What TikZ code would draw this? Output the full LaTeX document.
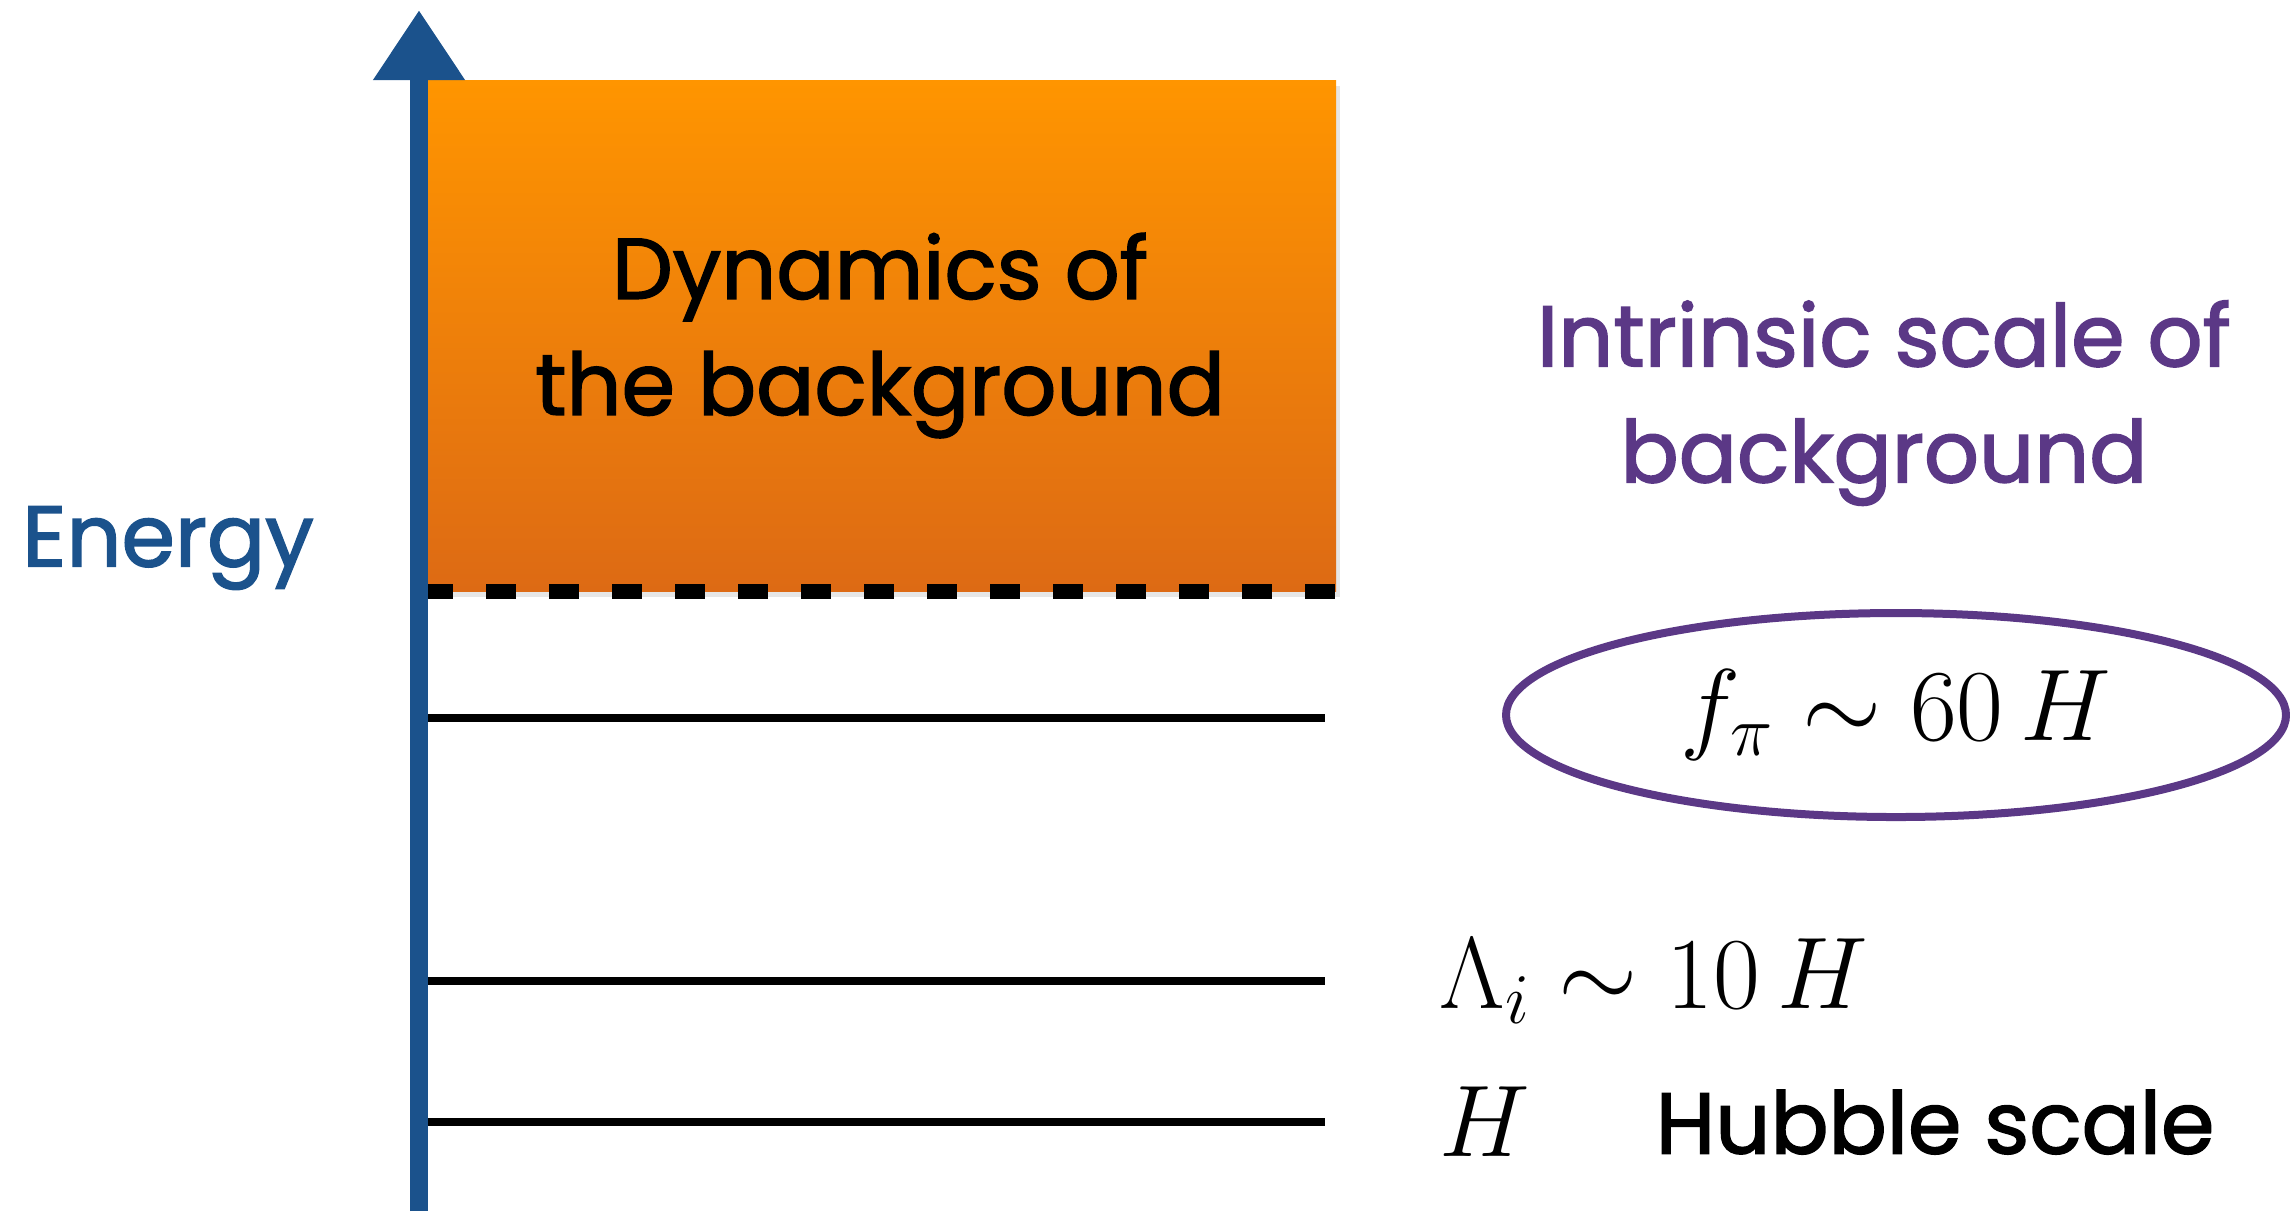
\documentclass[tikz,border=0pt]{standalone}
\usepackage{fix-cm}
\usepackage{amsmath,amssymb}
\usepackage{fontspec}
\setmainfont{Poppins}[RawFeature={embolden=1.8}]
\usepackage{tikz}
\usetikzlibrary{arrows.meta,positioning,shapes.geometric,shadows}
\definecolor{caxis}{HTML}{1B528C}
\definecolor{cscale}{HTML}{5B3886}
\definecolor{ctop}{HTML}{FF9500}
\definecolor{cbot}{HTML}{DD6A14}
\tikzset{
  bgbox/.style={top color=ctop, bottom color=cbot, minimum width=9.12cm, minimum height=5.11cm, inner sep=0pt, align=center, font=\fontsize{24.5}{33}\selectfont,
    drop shadow={opacity=0.2, shadow xshift=0.04cm, shadow yshift=-0.06cm}},
  axisline/.style={draw=caxis, line width=0.18cm, -{Triangle[length=0.7cm, width=0.87cm]}},
  level/.style={line width=0.08cm, black},
  cutoff/.style={line width=0.15cm, black, dash pattern=on 0.3cm off 0.33cm},
  ring/.style={ellipse, draw=cscale, line width=0.08cm, minimum width=7.8cm, minimum height=2.04cm, inner sep=0pt},
  bigmath/.style={font=\fontsize{29}{35}\selectfont, inner sep=0pt},
  hand/.style={font=\fontsize{24.5}{33}\selectfont, inner sep=0pt, align=center},
}
\begin{document}
\begin{tikzpicture}[x=1cm,y=1cm]
\useasboundingbox (0,0) rectangle (22.9,-12.11);
% background dynamics
\node[bgbox] (dyn) at (8.80,-3.355) {Dynamics of\\the background};
\draw[cutoff] (dyn.south west) -- (dyn.south east);
% scale levels
\coordinate (fl) at (4.24,-7.18);  \coordinate (fr) at (13.25,-7.18);
\coordinate (ll) at (4.24,-9.81);  \coordinate (lr) at (13.25,-9.81);
\coordinate (hl) at (4.24,-11.22); \coordinate (hr) at (13.25,-11.22);
\draw[level] (fl) -- (fr);
\draw[level] (ll) -- (lr);
\draw[level] (hl) -- (hr);
% energy axis
\coordinate (ax0) at (4.19,-12.11);
\coordinate (ax1) at (4.19,-0.1);
\draw[axisline] (ax0) -- (ax1);
\node[hand, text=caxis] (energy) at (1.68,-5.48) {Energy};
% labels
\node[hand, text=cscale] (intr) at (18.84,-4.03) {Intrinsic scale of\\background};
\node[ring, bigmath] (fpi) at (18.96,-7.15) {$f_\pi \sim 60\,H$};
\node[bigmath, anchor=west] (lam) at (14.39,-9.81) {$\Lambda_i \sim 10\,H$};
\node[bigmath, anchor=west] (hub) at (14.39,-11.22) {$H$};
\node[hand, anchor=west] (hubtxt) at (16.55,-11.22) {Hubble scale};
\end{tikzpicture}
\end{document}
